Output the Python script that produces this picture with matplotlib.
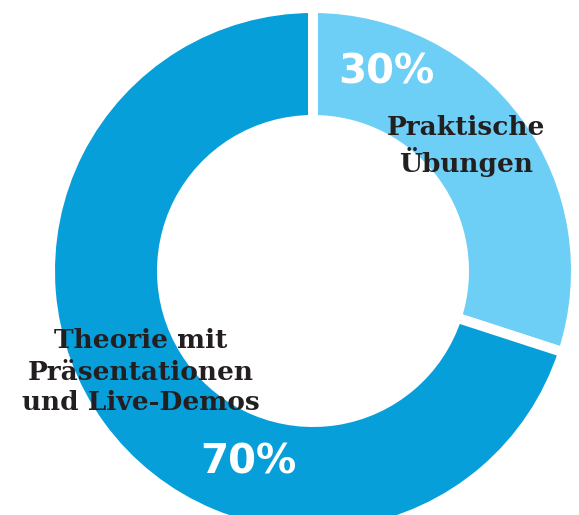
import matplotlib
matplotlib.use("Agg")
import matplotlib.pyplot as plt

labels = ["Praktische\nÜbungen", "Theorie mit\nPräsentationen\nund Live-Demos"]
shares = [30, 70]
colors = ["#6dcff6", "#079fda"]

fig = plt.figure(figsize=(5.79, 5.15), dpi=100)
ax = fig.add_axes([0, 0, 1, 1])

ax.pie(shares, colors=colors, startangle=90, counterclock=False,
       center=(313, 244), radius=263,
       wedgeprops=dict(width=112, edgecolor="white", linewidth=7.2))
ax.set_xlim(0, 579)
ax.set_ylim(0, 515)
ax.set_aspect("equal")
ax.axis("off")

pct_font = dict(color="white", fontsize=29, fontweight="bold",
                family="DejaVu Sans", ha="center", va="center")
ax.text(386, 443, "%d%%" % shares[0], **pct_font)
ax.text(248, 53, "%d%%" % shares[1], **pct_font)

lab_font = dict(color="#231f20", fontsize=19, fontweight="bold",
                family="DejaVu Serif", ha="center", va="center", linespacing=1.3)
ax.text(466, 369, labels[0], **lab_font)
ax.text(141, 143, labels[1], **lab_font)

fig.savefig("out.png", dpi=100)
